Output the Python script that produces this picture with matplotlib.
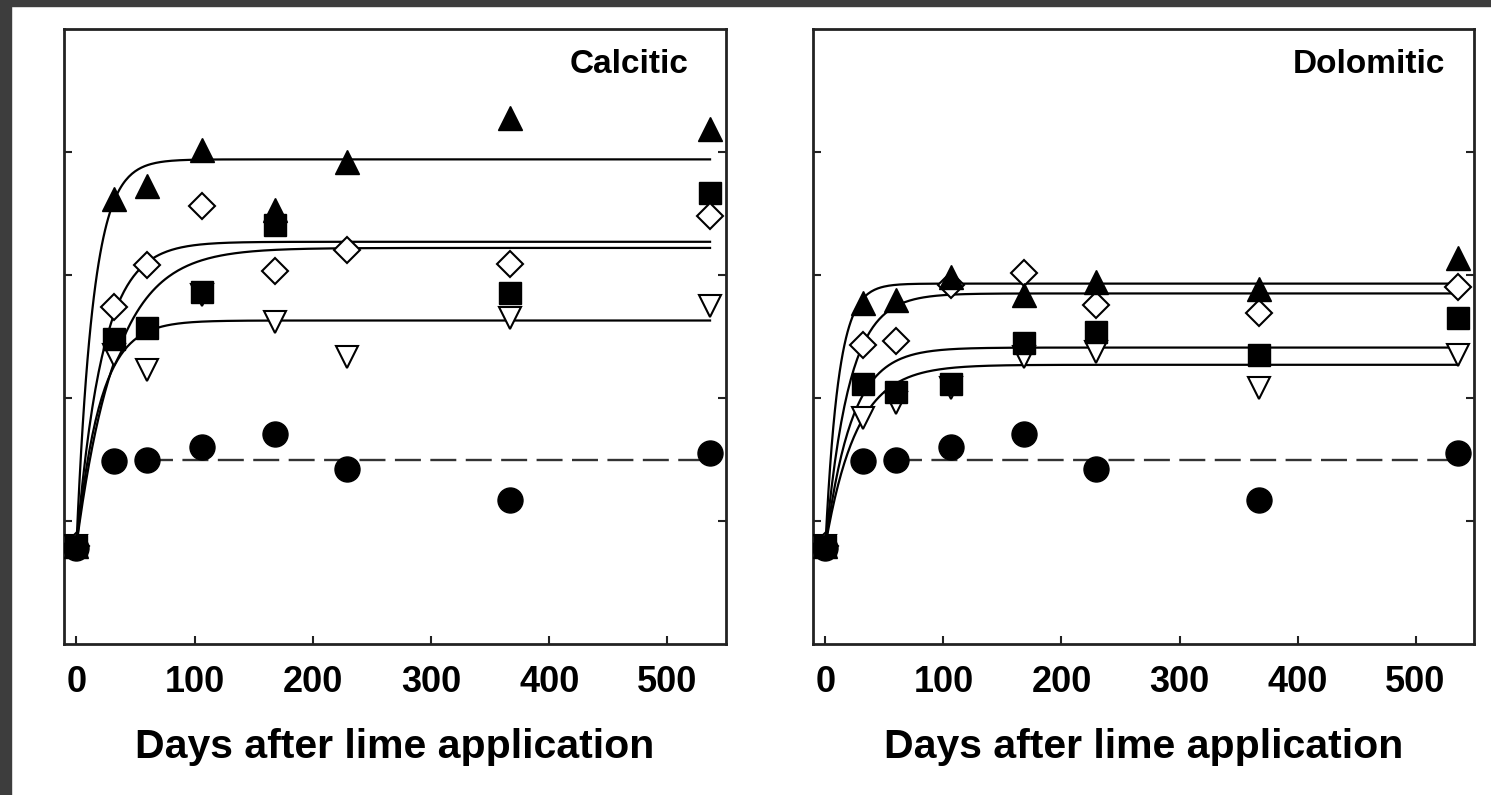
import numpy as np
import matplotlib.pyplot as plt
from matplotlib.patches import Rectangle

days = [0, 32, 60, 106, 168, 229, 367, 536]

# control (no lime), same in both panels
control = [0.78, 1.49, 1.50, 1.60, 1.71, 1.42, 1.17, 1.55]
control_mean = 1.50

# Calcitic lime
cal_tri = [0.8, 3.62, 3.72, 4.02, 3.53, 3.92, 4.28, 4.19]
cal_dia = [0.8, 2.74, 3.08, 3.56, 3.03, 3.20, 3.09, 3.48]
cal_sq = [0.8, 2.48, 2.57, 2.86, 3.41, np.nan, 2.85, 3.67]
cal_dtri = [0.8, 2.35, 2.23, 2.84, 2.62, 2.33, 2.65, 2.75]
cal_fit_max = [3.94, 3.27, 3.22, 2.63]
cal_fit_k = [0.07, 0.045, 0.03, 0.05]

# Dolomitic lime
dol_tri = [0.8, 2.77, 2.80, 2.98, 2.84, 2.94, 2.89, 3.14]
dol_dia = [0.8, 2.43, 2.46, 2.92, 3.02, 2.76, 2.69, 2.90]
dol_sq = [0.8, 2.11, 2.05, 2.11, 2.45, 2.54, 2.35, 2.65]
dol_dtri = [0.8, 1.84, 1.96, 2.08, 2.33, 2.37, 2.08, 2.35]
dol_fit_max = [2.93, 2.85, 2.41, 2.27]
dol_fit_k = [0.09, 0.05, 0.045, 0.038]

fit_start = 0.8

fig = plt.figure(figsize=(14.91, 7.95), dpi=100)
# dark frame around the scanned figure (top and left)
fig.patches.append(Rectangle((0, 1 - 6 / 795), 1, 6 / 795, transform=fig.transFigure,
                             color='#3d3d3d', zorder=0))
fig.patches.append(Rectangle((0, 0), 11 / 1491, 1, transform=fig.transFigure,
                             color='#3d3d3d', zorder=0))

tick_font = ['Liberation Sans Narrow', 'Liberation Sans']


def draw_panel(ax, tri, dia, sq, dtri, fit_max, fit_k, name, name_x):
    t = np.linspace(0, days[-1], 400)
    for a, k in zip(fit_max, fit_k):
        ax.plot(t, a - (a - fit_start) * np.exp(-k * t), color='black', lw=1.6, zorder=2)
    ax.plot([days[2], days[-1]], [control_mean, control_mean], color='#333333', lw=1.7,
            dashes=(11, 4), zorder=2)

    ax.plot(days, dtri, 'v', ms=16, mfc='white', mec='black', mew=1.5, ls='none', zorder=4)
    ax.plot(days, sq, 's', ms=16, color='black', ls='none', zorder=5)
    ax.plot(days, dia, 'D', ms=13.5, mfc='white', mec='black', mew=1.5, ls='none', zorder=6)
    ax.plot(days, tri, '^', ms=17, color='black', ls='none', zorder=7)
    ax.plot(days, control, 'o', ms=18, color='black', ls='none', zorder=8)

    ax.set_xlim(-10.5, 549.5)
    ax.set_ylim(0, 5)
    ax.set_xticks([0, 100, 200, 300, 400, 500])
    ax.set_yticks([1, 2, 3, 4])
    ax.set_yticklabels([])
    ax.tick_params(axis='both', direction='in', length=6, width=1.5, color='#222222')
    ax.tick_params(axis='y', right=True)
    ax.tick_params(axis='x', pad=15)
    for lab in ax.get_xticklabels():
        lab.set_family(tick_font)
        lab.set_fontsize(26)
        lab.set_fontweight('bold')
    for sp in ax.spines.values():
        sp.set_linewidth(2)
        sp.set_color('#222222')
    ax.set_xlabel('Days after lime application', fontsize=29.5, fontweight='bold',
                  family='Liberation Sans', labelpad=20)
    ax.text(name_x, 0.942, name, transform=ax.transAxes, ha='right', va='center',
            fontsize=24, fontweight='bold', family='Liberation Sans')


ax1 = fig.add_axes([64 / 1491, 1 - 644 / 795, 662 / 1491, 615 / 795])
ax2 = fig.add_axes([813 / 1491, 1 - 644 / 795, 661 / 1491, 615 / 795])

draw_panel(ax1, cal_tri, cal_dia, cal_sq, cal_dtri, cal_fit_max, cal_fit_k, 'Calcitic', 0.9426)
draw_panel(ax2, dol_tri, dol_dia, dol_sq, dol_dtri, dol_fit_max, dol_fit_k, 'Dolomitic', 0.956)

fig.savefig('out.png', dpi=100)
